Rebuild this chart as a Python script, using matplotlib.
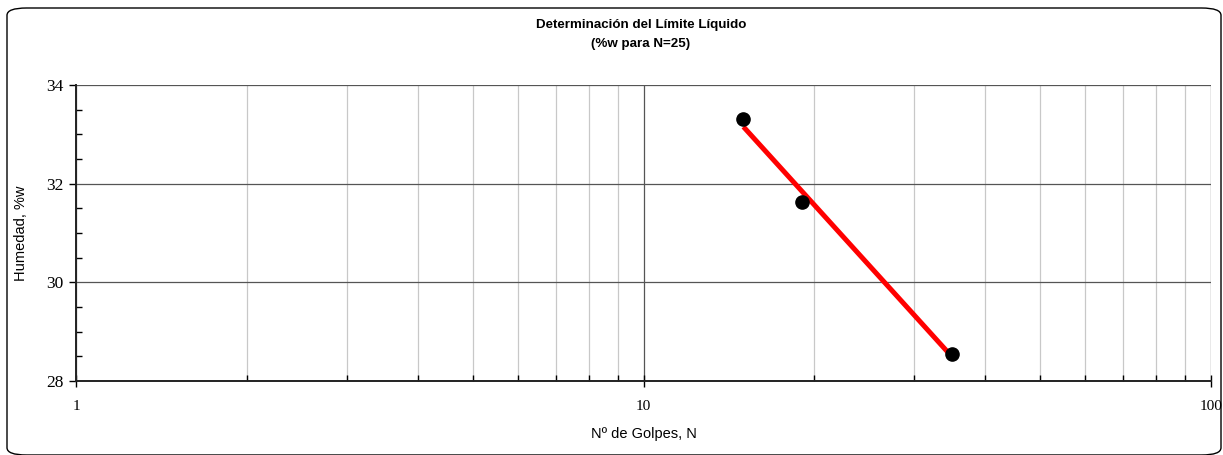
import matplotlib
matplotlib.use("Agg")
import matplotlib.pyplot as plt
from matplotlib.patches import FancyBboxPatch
from matplotlib.ticker import LogLocator, FixedLocator, NullFormatter, FuncFormatter
import numpy as np

# data
golpes = [15, 19, 35]
humedad = [33.32, 31.62, 28.55]
yticks = [28, 30, 32, 34]
xticks = [1, 10, 100]

W, H = 1223, 455
fig = plt.figure(figsize=(W / 100, H / 100), dpi=100)

# rounded frame around the whole chart
frame = FancyBboxPatch((7 / W, 0 / H), 1214 / W, 447 / H,
                       boxstyle="round,pad=0,rounding_size=0.016",
                       transform=fig.transFigure, facecolor="none",
                       edgecolor="black", linewidth=1.0)
fig.patches.append(frame)

ax = fig.add_axes([76 / W, 1 - 381 / H, (1211 - 76) / W, (381 - 85) / H])
ax.set_xscale("log")
ax.set_xlim(1, 100)
ax.set_ylim(28, 34)

# trend line (least squares in log N)
lx = np.log10(golpes)
m, b = np.polyfit(lx, humedad, 1)
xx = np.array([min(golpes), max(golpes)])
ax.plot(xx, m * np.log10(xx) + b, color="#ff0000", linewidth=3.6,
        solid_capstyle="butt", zorder=3)
ax.plot(golpes, humedad, "o", color="black", markersize=9.5, zorder=4)

ax.xaxis.set_major_locator(FixedLocator(xticks))
ax.xaxis.set_minor_locator(LogLocator(base=10, subs=range(2, 10)))
ax.xaxis.set_minor_formatter(NullFormatter())
ax.xaxis.set_major_formatter(FuncFormatter(lambda v, p: "%d" % v))
ax.yaxis.set_major_locator(FixedLocator(yticks))
ax.yaxis.set_minor_locator(FixedLocator(np.arange(28, 34.01, 0.5)))

ax.grid(True, which="major", axis="both", color="#555555", linewidth=0.9)
ax.grid(True, which="minor", axis="x", color="#c8c8c8", linewidth=0.9)
ax.set_axisbelow(True)

for s in ["top", "right"]:
    ax.spines[s].set_visible(False)
for s in ["left", "bottom"]:
    ax.spines[s].set_linewidth(1.4)
    ax.spines[s].set_color("#222222")

ax.tick_params(axis="x", which="major", direction="inout", length=8, width=1, pad=10)
ax.tick_params(axis="x", which="minor", direction="in", length=4, width=1)
ax.tick_params(axis="y", which="major", direction="out", length=5, width=1, pad=4)
ax.tick_params(axis="y", which="minor", direction="in", length=4, width=1)
for lab in ax.get_xticklabels():
    lab.set_fontfamily("Liberation Serif")
    lab.set_fontsize(11)
for lab in ax.get_yticklabels():
    lab.set_fontfamily("Liberation Serif")
    lab.set_fontsize(12.5)

ax.set_xlabel("Nº de Golpes, N", family="Liberation Sans", fontsize=10.5, labelpad=10)
ax.set_ylabel("Humedad, %w", family="Liberation Sans", fontsize=10.5, labelpad=13)

fig.text(641 / W, 1 - 25 / H, "Determinación del Límite Líquido", ha="center", va="center",
         family="Liberation Sans", fontsize=9.6, fontweight="bold")
fig.text(641 / W, 1 - 44 / H, "(%w para N=25)", ha="center", va="center",
         family="Liberation Sans", fontsize=9.6, fontweight="bold")

fig.savefig("out.png", dpi=100)
